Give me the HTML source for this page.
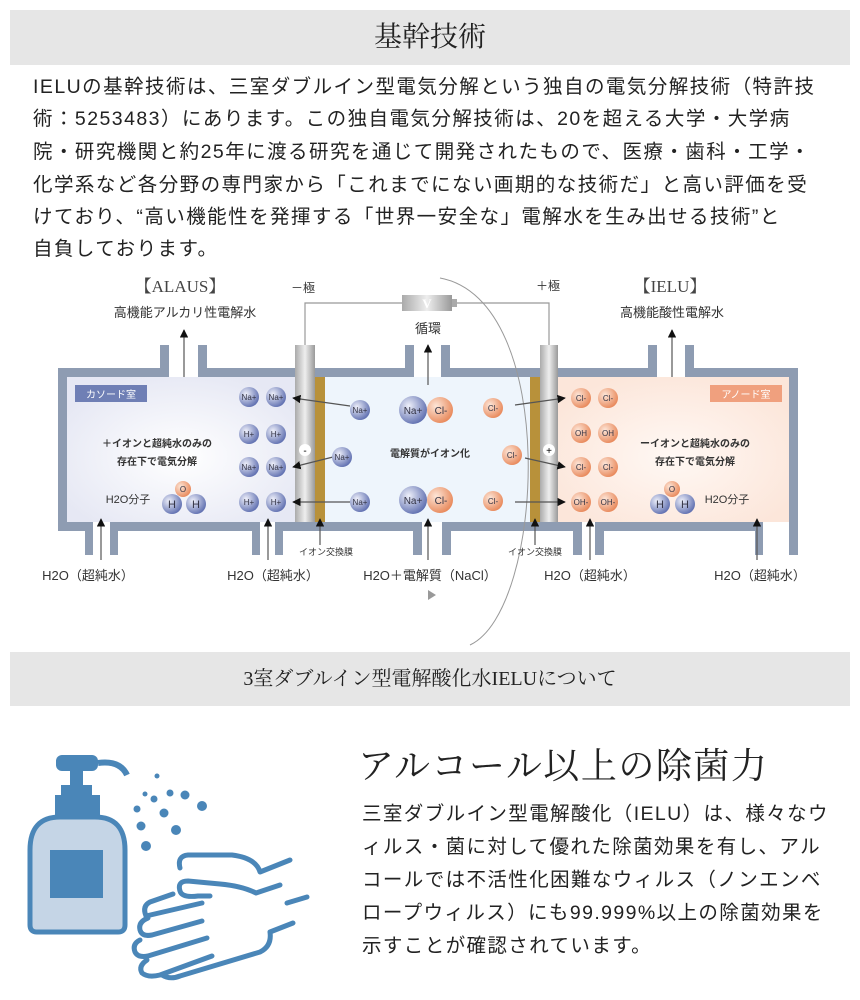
<!DOCTYPE html>
<html><head><meta charset="utf-8"><style>
body{margin:0;width:860px;height:1000px;background:#fff;position:relative;overflow:hidden;font-family:"Liberation Sans","Noto Sans CJK JP",sans-serif;color:#222}
.bar{position:absolute;left:10px;width:840px;background:#e6e6e6;text-align:center;font-family:"Liberation Serif","Noto Serif CJK JP",serif;color:#222}
.p{position:absolute;left:33px;font-size:19.5px;white-space:nowrap;letter-spacing:1.45px}
.q{position:absolute;left:362px;font-size:19.5px;white-space:nowrap;letter-spacing:1.4px}
</style></head><body>
<div class="bar" style="top:10px;height:55px;line-height:55px;font-size:28px">基幹技術</div>
<div class="p" style="top:70px">IELUの基幹技術は、三室ダブルイン型電気分解という独自の電気分解技術（特許技</div>
<div class="p" style="top:102px">術：5253483）にあります。この独自電気分解技術は、20を超える大学・大学病</div>
<div class="p" style="top:135px">院・研究機関と約25年に渡る研究を通じて開発されたもので、医療・歯科・工学・</div>
<div class="p" style="top:168px">化学系など各分野の専門家から「これまでにない画期的な技術だ」と高い評価を受</div>
<div class="p" style="top:200px">けており、“高い機能性を発揮する「世界一安全な」電解水を生み出せる技術”と</div>
<div class="p" style="top:232px">自負しております。</div>

<svg style="position:absolute;left:0;top:0" width="860" height="650" font-family="Liberation Sans,Noto Sans CJK JP,sans-serif">
<defs>
<radialGradient id="lg" cx="0.5" cy="0.55" r="0.6"><stop offset="0" stop-color="#ffffff"/><stop offset="1" stop-color="#e6e8f4"/></radialGradient>
<radialGradient id="rg" cx="0.5" cy="0.55" r="0.6"><stop offset="0" stop-color="#fff8f4"/><stop offset="1" stop-color="#fce6da"/></radialGradient>
<linearGradient id="el" x1="0" x2="1"><stop offset="0" stop-color="#aaa"/><stop offset="0.5" stop-color="#eee"/><stop offset="1" stop-color="#999"/></linearGradient>
<radialGradient id="bl" cx="0.35" cy="0.35" r="0.7"><stop offset="0" stop-color="#eef0fa"/><stop offset="1" stop-color="#5f6fb0"/></radialGradient>
<radialGradient id="or" cx="0.35" cy="0.35" r="0.7"><stop offset="0" stop-color="#fde6d8"/><stop offset="1" stop-color="#e8885a"/></radialGradient>
<marker id="ah" viewBox="0 0 10 10" refX="9" refY="5" markerWidth="7" markerHeight="7" orient="auto"><path d="M0,0L10,5L0,10z" fill="#111"/></marker>
</defs>
<rect x="67" y="377" width="229" height="145" fill="url(#lg)"/>
<rect x="316" y="377" width="215" height="145" fill="#eef5fc"/>
<rect x="558" y="377" width="231" height="145" fill="url(#rg)"/>
<g fill="#8e9cb2">
<rect x="58" y="368" width="111" height="9"/><rect x="198" y="368" width="99" height="9"/>
<rect x="315" y="368" width="99" height="9"/><rect x="441" y="368" width="100" height="9"/>
<rect x="558" y="368" width="99" height="9"/><rect x="685" y="368" width="113" height="9"/>
<rect x="160" y="345" width="9" height="32"/><rect x="198" y="345" width="9" height="32"/>
<rect x="405" y="345" width="9" height="32"/><rect x="441" y="345" width="9" height="32"/>
<rect x="648" y="345" width="9" height="32"/><rect x="685" y="345" width="9" height="32"/>
<rect x="58" y="368" width="9" height="163"/><rect x="789" y="368" width="9" height="187"/>
<rect x="58" y="522" width="35" height="9"/><rect x="110" y="522" width="150" height="9"/>
<rect x="275" y="522" width="147" height="9"/><rect x="442" y="522" width="140" height="9"/>
<rect x="595" y="522" width="168" height="9"/>
<rect x="85" y="522" width="8" height="33"/><rect x="110" y="522" width="8" height="33"/>
<rect x="252" y="522" width="8" height="33"/><rect x="275" y="522" width="8" height="33"/>
<rect x="413" y="522" width="9" height="33"/><rect x="442" y="522" width="9" height="33"/>
<rect x="573" y="522" width="9" height="33"/><rect x="595" y="522" width="9" height="33"/>
<rect x="755" y="522" width="8" height="33"/>
</g>
<rect x="315" y="377" width="10" height="145" fill="#b8913a"/>
<rect x="530" y="377" width="10" height="145" fill="#b8913a"/>
<rect x="295" y="345" width="20" height="177" fill="url(#el)"/>
<rect x="540" y="345" width="18" height="177" fill="url(#el)"/>
<polyline points="305,345 305,303 402,303" fill="none" stroke="#999" stroke-width="1.2"/>
<polyline points="455,303 549,303 549,345" fill="none" stroke="#999" stroke-width="1.2"/>
<rect x="402" y="295" width="50" height="16" fill="url(#el)"/><rect x="452" y="299" width="5" height="8" fill="#aaa"/>
<text x="427" y="308" font-size="13" fill="#fff" text-anchor="middle" font-weight="bold" font-family="Liberation Serif,serif">V</text>
<path d="M440 278 C560 300,545 610,470 645" fill="none" stroke="#999" stroke-width="1"/>
<path d="M428 590 L436 595 L428 600z" fill="#999"/>
<g fill="#333" font-size="12" text-anchor="middle">
<text x="303" y="292">－極</text><text x="548" y="290">＋極</text>
<text x="180" y="292" font-size="17" font-family="Liberation Serif,Noto Serif CJK JP,serif" fill="#444">【ALAUS】</text>
<text x="670" y="292" font-size="17" font-family="Liberation Serif,Noto Serif CJK JP,serif" fill="#444">【IELU】</text>
<text x="185" y="317" font-size="13">高機能アルカリ性電解水</text>
<text x="672" y="317" font-size="13">高機能酸性電解水</text>
<text x="428" y="333" font-size="13">循環</text>
<text x="88" y="580" font-size="13">H2O（超純水）</text>
<text x="273" y="580" font-size="13">H2O（超純水）</text>
<text x="430" y="580" font-size="13">H2O＋電解質（NaCl）</text>
<text x="590" y="580" font-size="13">H2O（超純水）</text>
<text x="760" y="580" font-size="13">H2O（超純水）</text>
<text x="326" y="555" font-size="9">イオン交換膜</text>
<text x="535" y="555" font-size="9">イオン交換膜</text>
<g font-size="10" font-weight="bold">
<text x="157" y="447">＋イオンと超純水のみの</text><text x="157" y="465">存在下で電気分解</text>
<text x="430" y="457">電解質がイオン化</text>
<text x="695" y="447">ーイオンと超純水のみの</text><text x="695" y="465">存在下で電気分解</text>
</g>
<text x="128" y="503" font-size="11">H2O分子</text><text x="727" y="503" font-size="11">H2O分子</text>
</g>
<g stroke="#555" stroke-width="1.2" marker-end="url(#ah)">
<line x1="184" y1="377" x2="184" y2="330"/><line x1="428" y1="385" x2="428" y2="345"/><line x1="672" y1="377" x2="672" y2="330"/>
<line x1="101" y1="560" x2="101" y2="519"/><line x1="268" y1="560" x2="268" y2="519"/><line x1="320" y1="545" x2="320" y2="519"/>
<line x1="428" y1="560" x2="428" y2="519"/><line x1="535" y1="545" x2="535" y2="519"/><line x1="590" y1="560" x2="590" y2="519"/><line x1="757" y1="560" x2="757" y2="519"/>
<line x1="350" y1="406" x2="293" y2="398"/><line x1="333" y1="457" x2="293" y2="467"/><line x1="350" y1="502" x2="293" y2="502"/>
<line x1="515" y1="405" x2="565" y2="398"/><line x1="525" y1="458" x2="565" y2="467"/><line x1="515" y1="502" x2="565" y2="502"/>
</g>
<rect x="75" y="385" width="72" height="17" fill="#6f7fb5"/><text x="111" y="398" font-size="10" fill="#fff" text-anchor="middle">カソード室</text>
<rect x="710" y="385" width="72" height="17" fill="#f0a07e"/><text x="746" y="398" font-size="10" fill="#fff" text-anchor="middle">アノード室</text>
<circle cx="305" cy="450" r="6" fill="#fff"/><text x="305" y="454" font-size="10" text-anchor="middle">-</text>
<circle cx="549" cy="450" r="6" fill="#fff"/><text x="549" y="454" font-size="10" text-anchor="middle">+</text>
<g font-size="8" text-anchor="middle" fill="#334">
<circle cx="249" cy="397" r="10" fill="url(#bl)"/><text x="249" y="400">Na+</text><circle cx="276" cy="397" r="10" fill="url(#bl)"/><text x="276" y="400">Na+</text>
<circle cx="249" cy="434" r="10" fill="url(#bl)"/><text x="249" y="437">H+</text><circle cx="276" cy="434" r="10" fill="url(#bl)"/><text x="276" y="437">H+</text>
<circle cx="249" cy="467" r="10" fill="url(#bl)"/><text x="249" y="470">Na+</text><circle cx="276" cy="467" r="10" fill="url(#bl)"/><text x="276" y="470">Na+</text>
<circle cx="249" cy="502" r="10" fill="url(#bl)"/><text x="249" y="505">H+</text><circle cx="276" cy="502" r="10" fill="url(#bl)"/><text x="276" y="505">H+</text>
<circle cx="360" cy="410" r="10" fill="url(#bl)"/><text x="360" y="413">Na+</text><circle cx="342" cy="457" r="10" fill="url(#bl)"/><text x="342" y="460">Na+</text><circle cx="360" cy="502" r="10" fill="url(#bl)"/><text x="360" y="505">Na+</text>
<circle cx="413" cy="410" r="14" fill="url(#bl)"/><text x="413" y="414" font-size="10">Na+</text><circle cx="440" cy="410" r="13" fill="url(#or)"/><text x="441" y="414" font-size="10">Cl-</text>
<circle cx="413" cy="500" r="14" fill="url(#bl)"/><text x="413" y="504" font-size="10">Na+</text><circle cx="440" cy="500" r="13" fill="url(#or)"/><text x="441" y="504" font-size="10">Cl-</text>
<circle cx="493" cy="408" r="10" fill="url(#or)"/><text x="493" y="411">Cl-</text><circle cx="512" cy="455" r="10" fill="url(#or)"/><text x="512" y="458">Cl-</text><circle cx="493" cy="501" r="10" fill="url(#or)"/><text x="493" y="504">Cl-</text>
<circle cx="581" cy="398" r="10" fill="url(#or)"/><text x="581" y="401">Cl-</text><circle cx="608" cy="398" r="10" fill="url(#or)"/><text x="608" y="401">Cl-</text>
<circle cx="581" cy="433" r="10" fill="url(#or)"/><text x="581" y="436">OH</text><circle cx="608" cy="433" r="10" fill="url(#or)"/><text x="608" y="436">OH</text>
<circle cx="581" cy="467" r="10" fill="url(#or)"/><text x="581" y="470">Cl-</text><circle cx="608" cy="467" r="10" fill="url(#or)"/><text x="608" y="470">Cl-</text>
<circle cx="581" cy="502" r="10" fill="url(#or)"/><text x="581" y="505">OH-</text><circle cx="608" cy="502" r="10" fill="url(#or)"/><text x="608" y="505">OH-</text>
<circle cx="183" cy="489" r="8" fill="url(#or)"/><text x="183" y="492">O</text><circle cx="172" cy="504" r="10" fill="url(#bl)"/><text x="172" y="508" font-size="11">H</text><circle cx="196" cy="504" r="10" fill="url(#bl)"/><text x="196" y="508" font-size="11">H</text>
<circle cx="672" cy="489" r="8" fill="url(#or)"/><text x="672" y="492">O</text><circle cx="660" cy="504" r="10" fill="url(#bl)"/><text x="660" y="508" font-size="11">H</text><circle cx="685" cy="504" r="10" fill="url(#bl)"/><text x="685" y="508" font-size="11">H</text>
</g>
</svg>

<div class="bar" style="top:652px;height:54px;line-height:54px;font-size:20px">3室ダブルイン型電解酸化水IELUについて</div>

<svg style="position:absolute;left:20px;top:720px" width="320" height="270">
<g fill="#4a86b8" stroke="none">
<rect x="36" y="35" width="42" height="16" rx="6"/><rect x="50" y="50" width="13" height="16"/><rect x="41" y="65" width="31" height="12"/><rect x="35" y="75" width="45" height="20"/>
<circle cx="137" cy="56" r="2.5"/><circle cx="150" cy="73" r="3.5"/><circle cx="125" cy="74" r="2.5"/><circle cx="134" cy="79" r="3.5"/><circle cx="165" cy="75" r="4.5"/><circle cx="117" cy="89" r="3.5"/><circle cx="182" cy="86" r="5"/><circle cx="144" cy="93" r="4.5"/><circle cx="121" cy="106" r="4.5"/><circle cx="156" cy="110" r="5"/><circle cx="126" cy="126" r="5"/>
</g>
<path d="M78 43 Q100 40 107 55" fill="none" stroke="#4a86b8" stroke-width="6"/>
<path d="M10 130 Q10 97 40 97 L75 97 Q105 97 105 130 L105 205 Q105 212 98 212 L17 212 Q10 212 10 205Z" fill="#c5d5e6" stroke="#4a86b8" stroke-width="5"/>
<rect x="30" y="130" width="53" height="48" fill="#4a86b8"/>
<g fill="none" stroke="#4a86b8" stroke-width="5" stroke-linecap="round" stroke-linejoin="round">
<path d="M160 148 Q157 136 168 135 L212 135 Q236 138 240 152 L270 140"/>
<path d="M260 165 L236 173 Q222 166 200 164 L168 161 Q157 161 160 171 Q162 178 178 176 L190 176"/>
<path d="M153 174 L130 182 Q122 186 126 196 L182 183"/>
<path d="M128 198 Q118 202 120 210 Q122 217 132 215 L182 201"/>
<path d="M120 220 Q112 224 115 232 Q118 238 128 236 L187 218"/>
<path d="M127 240 Q118 246 122 253 Q128 258 140 255 L192 236"/>
<path d="M142 255 Q150 260 160 256 L240 232 Q252 226 250 212 L273 203"/>
<path d="M267 183 L287 177"/>
</g>
</svg>

<div style="position:absolute;left:358px;top:738px;font-size:36px;font-family:'Liberation Serif','Noto Serif CJK JP',serif;letter-spacing:1.5px;white-space:nowrap">アルコール以上の除菌力</div>
<div class="q" style="top:797px">三室ダブルイン型電解酸化（IELU）は、様々なウ</div>
<div class="q" style="top:830px">ィルス・菌に対して優れた除菌効果を有し、アル</div>
<div class="q" style="top:863px">コールでは不活性化困難なウィルス（ノンエンベ</div>
<div class="q" style="top:896px">ロープウィルス）にも99.999%以上の除菌効果を</div>
<div class="q" style="top:929px">示すことが確認されています。</div>
</body></html>
